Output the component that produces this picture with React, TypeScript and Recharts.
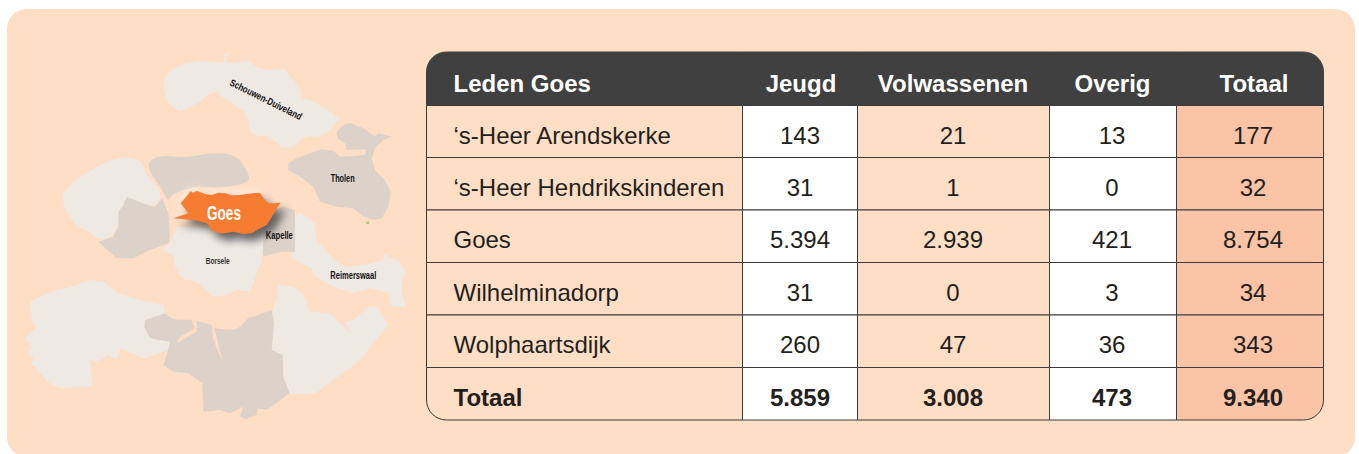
import React from 'react';
import { ScatterChart, Scatter, XAxis, YAxis, ReferenceArea } from 'recharts';

// table content
const tableTitle = 'Leden Goes';
const columns = ['Jeugd', 'Volwassenen', 'Overig', 'Totaal'];
const places = ["‘s-Heer Arendskerke", "‘s-Heer Hendrikskinderen", 'Goes', 'Wilhelminadorp', 'Wolphaartsdijk', 'Totaal'];
const jeugd = ['143', '31', '5.394', '31', '260', '5.859'];
const volwassenen = ['21', '1', '2.939', '0', '47', '3.008'];
const overig = ['13', '0', '421', '3', '36', '473'];
const totaal = ['177', '32', '8.754', '34', '343', '9.340'];

// table layout, in page pixels
const colEdges = [426.5, 742.5, 857.5, 1049.5, 1176.5, 1323.5];
const rowEdges = [52, 105.5, 157.5, 210, 262.5, 315, 367.5, 420];
const textCentres = [453.5, 800, 953, 1112, 1253];
const headerCentres = [453.5, 801, 953, 1112.5, 1254];
const colFills = ['#FEDEC5', '#FFFFFF', '#FEDEC5', '#FFFFFF', '#FCC4A6'];

type Pt = [number, number];

// map outlines, traced on a 3x grid of the map area
const schouwen: Pt[] = [[672, 98], [675, 75], [695, 58], [690, 65], [680, 78], [680, 96], [700, 100], [745, 92], [775, 115], [810, 120], [855, 115], [868, 135], [885, 155], [900, 180], [905, 205], [935, 212], [975, 235], [1018, 265], [1000, 290], [985, 305], [960, 322], [925, 318], [900, 330], [880, 350], [850, 354], [825, 335], [800, 315], [775, 320], [750, 305], [745, 275], [732, 245], [700, 220], [670, 205], [650, 185], [630, 190], [600, 215], [575, 228], [540, 245], [510, 225], [495, 195], [490, 165], [500, 135], [520, 115], [560, 100], [600, 92]];
const tholen: Pt[] = [[1010, 305], [1030, 285], [1050, 278], [1090, 295], [1125, 320], [1135, 310], [1175, 320], [1150, 330], [1125, 355], [1115, 385], [1125, 420], [1155, 450], [1172, 485], [1165, 530], [1145, 565], [1125, 570], [1090, 560], [1060, 535], [1010, 530], [960, 515], [940, 470], [900, 440], [865, 420], [865, 400], [890, 385], [930, 370], [965, 358], [1000, 362], [1020, 380], [1060, 378], [1095, 375], [1097, 358], [1040, 360], [1035, 340], [1012, 325]];
const noordBeveland: Pt[] = [[440, 390], [490, 375], [530, 382], [575, 380], [630, 370], [680, 368], [720, 385], [740, 425], [755, 450], [720, 465], [680, 470], [640, 475], [590, 465], [550, 480], [510, 495], [505, 520], [480, 465], [450, 430]];
const walcheren: Pt[] = [[185, 490], [225, 450], [290, 410], [350, 380], [400, 385], [430, 395], [425, 420], [470, 465], [487, 500], [465, 530], [440, 525], [405, 510], [380, 500], [370, 525], [355, 545], [355, 590], [340, 620], [295, 635], [270, 600], [245, 600], [215, 570], [190, 530]];
const middelburg: Pt[] = [[380, 500], [405, 510], [440, 525], [465, 530], [487, 505], [505, 550], [510, 620], [505, 640], [450, 660], [400, 685], [350, 685], [295, 635], [340, 620], [355, 590], [355, 545], [370, 525]];
const zuidBeveland: Pt[] = [[530, 590], [790, 600], [790, 640], [785, 690], [750, 785], [710, 780], [680, 795], [640, 800], [590, 755], [545, 745], [525, 710], [520, 675], [485, 660], [510, 640]];
const kapelle: Pt[] = [[845, 530], [885, 540], [885, 665], [845, 665], [790, 680], [785, 640], [790, 560]];
const reimerswaal: Pt[] = [[885, 560], [900, 545], [945, 580], [950, 630], [985, 670], [1030, 710], [1090, 705], [1150, 690], [1155, 670], [1170, 685], [1195, 690], [1218, 730], [1205, 755], [1205, 790], [1218, 830], [1175, 830], [1165, 790], [1110, 775], [1060, 790], [1000, 770], [940, 735], [935, 715], [885, 690], [870, 675], [885, 665]];
const sluis: Pt[] = [[90, 815], [165, 780], [200, 775], [265, 750], [310, 755], [355, 790], [400, 805], [490, 825], [495, 850], [510, 865], [435, 870], [433, 890], [450, 925], [510, 935], [505, 960], [430, 985], [360, 955], [350, 990], [325, 975], [290, 995], [268, 990], [280, 1068], [185, 1075], [155, 1065], [130, 1040], [95, 1000], [100, 985], [85, 965], [95, 950], [75, 925], [108, 895], [95, 865]];
const terneuzen: Pt[] = [[435, 870], [495, 850], [520, 868], [575, 870], [585, 895], [540, 920], [530, 940], [590, 905], [590, 872], [635, 885], [640, 930], [668, 995], [650, 920], [642, 895], [690, 900], [715, 895], [745, 865], [815, 840], [822, 880], [815, 960], [848, 975], [850, 1040], [868, 1090], [835, 1115], [800, 1140], [775, 1135], [770, 1155], [735, 1168], [720, 1160], [730, 1130], [690, 1150], [660, 1140], [610, 1145], [607, 1060], [565, 1030], [520, 1025], [490, 1005], [505, 960], [510, 935], [450, 925], [433, 890]];
const hulst: Pt[] = [[835, 765], [880, 770], [910, 795], [930, 845], [990, 850], [1050, 910], [1035, 875], [1060, 870], [1090, 845], [1110, 828], [1135, 835], [1165, 885], [1075, 995], [945, 1090], [870, 1092], [850, 1040], [848, 975], [815, 960], [822, 880], [818, 845], [830, 800]];
const goes: Pt[] = [[520, 565], [565, 550], [542, 520], [555, 505], [572, 483], [580, 488], [590, 482], [615, 492], [635, 495], [655, 488], [675, 490], [695, 496], [720, 495], [740, 492], [760, 490], [780, 488], [795, 510], [805, 520], [825, 520], [842, 518], [833, 530], [825, 545], [810, 570], [800, 585], [780, 595], [755, 610], [730, 612], [700, 605], [675, 610], [655, 610], [635, 600], [620, 580], [580, 570]];

const greenDot: Pt[] = [[1098, 575], [1108, 575], [1108, 582], [1098, 582]];

const mapLabels = [
  { text: 'Schouwen-Duiveland', u: 798, v: 208, size: 10, span: 79, angle: 26.5, fill: '#111' },
  { text: 'Tholen', u: 1028, v: 445, size: 10, span: 24, angle: 0, fill: '#111' },
  { text: 'Goes', u: 672, v: 548, size: 20, span: 34, angle: 0, fill: '#fff' },
  { text: 'Kapelle', u: 838, v: 617, size: 10, span: 27, angle: 0, fill: '#111' },
  { text: 'Borsele', u: 653, v: 692, size: 9.5, span: 24, angle: 0, fill: '#333' },
  { text: 'Reimerswaal', u: 1060, v: 735, size: 10, span: 46, angle: 0, fill: '#111' },
];

const LIGHT = '#EFE9E4';
const DARK = '#DDD2C9';
const INK = '#231F20';
const BORDER = '#3C3A3A';

// map grid to page pixels
const toPage = (pts: Pt[], dx = 0, dy = 0) => pts.map(([u, v]) => ({ x: u / 3 + dx, y: 30 + v / 3 + dy }));

const noPoint = () => <g />;

// rectangle path with its own radius per corner
const cellPath = (x: number, y: number, w: number, h: number, tl = 0, tr = 0, br = 0, bl = 0) =>
  `M${x + tl},${y}H${x + w - tr}A${tr},${tr} 0 0 1 ${x + w},${y + tr}V${y + h - br}A${br},${br} 0 0 1 ${x + w - br},${y + h}H${x + bl}A${bl},${bl} 0 0 1 ${x},${y + h - bl}V${y + tl}A${tl},${tl} 0 0 1 ${x + tl},${y}Z`;

const tableRows = [
  [tableTitle, ...columns],
  ...places.map((p, i) => [p, jeugd[i], volwassenen[i], overig[i], totaal[i]]),
];

const tableCells = tableRows.flatMap((cells, row) =>
  cells.map((text, col) => ({
    x: (colEdges[col] + colEdges[col + 1]) / 2,
    y: (rowEdges[row] + rowEdges[row + 1]) / 2,
    text,
    row,
    col,
  })),
);

const TableCell = (props: any) => {
  const { row, col, text } = props.payload;
  const left = colEdges[col];
  const top = rowEdges[row];
  const w = colEdges[col + 1] - left;
  const h = rowEdges[row + 1] - top;
  const header = row === 0;
  const lastRow = row === tableRows.length - 1;
  const r = 20;
  const d = cellPath(
    left,
    top,
    w,
    h,
    header && col === 0 ? r : 0,
    header && col === 4 ? r : 0,
    lastRow && col === 4 ? r : 0,
    lastRow && col === 0 ? r : 0,
  );
  return (
    <g>
      <path d={d} fill={header ? '#404040' : colFills[col]} stroke={header ? '#404040' : BORDER} strokeWidth={1} />
      <text
        x={header ? headerCentres[col] : textCentres[col]}
        y={top + h / 2 + (header ? 13 : 12.2)}
        textAnchor={col === 0 ? 'start' : 'middle'}
        fontFamily="'Liberation Sans', Arial, sans-serif"
        fontSize={24}
        fontWeight={header || lastRow ? 700 : 400}
        fill={header ? '#FFFFFF' : INK}
      >
        {text}
      </text>
    </g>
  );
};

const MapLabel = (props: any) => {
  const { text, size, span, angle, fill } = props.payload;
  const { cx, cy } = props;
  return (
    <text
      x={cx}
      y={cy}
      dy={size * 0.36}
      textAnchor="middle"
      textLength={span}
      lengthAdjust="spacingAndGlyphs"
      transform={angle ? `rotate(${angle} ${cx} ${cy})` : undefined}
      fontFamily="'Liberation Sans', sans-serif"
      fontWeight={700}
      fontSize={size}
      fill={fill}
    >
      {text}
    </text>
  );
};

const regions = [
  { name: 'schouwen', pts: schouwen, fill: LIGHT, joint: 'linear' },
  { name: 'walcheren', pts: walcheren, fill: LIGHT, joint: 'basisClosed' },
  { name: 'sluis', pts: sluis, fill: LIGHT, joint: 'linear' },
  { name: 'hulst', pts: hulst, fill: LIGHT, joint: 'linear' },
  { name: 'reimerswaal', pts: reimerswaal, fill: LIGHT, joint: 'linear' },
  { name: 'tholen', pts: tholen, fill: DARK, joint: 'linear' },
  { name: 'noordBeveland', pts: noordBeveland, fill: DARK, joint: 'basisClosed' },
  { name: 'middelburg', pts: middelburg, fill: DARK, joint: 'linear' },
  { name: 'terneuzen', pts: terneuzen, fill: DARK, joint: 'linear' },
  { name: 'kapelle', pts: kapelle, fill: DARK, joint: 'linear' },
  { name: 'zuidBeveland', pts: zuidBeveland, fill: LIGHT, joint: 'linear' },
  { name: 'greenDot', pts: greenDot, fill: '#A9C98A', joint: 'linear' },
];

const App = () => (
  <div style={{ position: 'absolute', left: 0, top: 0, width: 1359, height: 454 }}>
    <ScatterChart width={1359} height={454} margin={{ top: 0, right: 0, bottom: 0, left: 0 }}>
      <XAxis type="number" dataKey="x" domain={[0, 1359]} hide allowDataOverflow />
      <YAxis type="number" dataKey="y" domain={[0, 454]} reversed hide allowDataOverflow />
      <ReferenceArea
        x1={7}
        x2={1355}
        y1={9}
        y2={454}
        ifOverflow="visible"
        shape={(p: any) => <path d={cellPath(p.x, p.y, p.width, p.height + 3, 20, 20, 20, 20)} fill="#FEDEC5" />}
      />
      {regions.map((r) => (
        <Scatter
          key={r.name}
          data={toPage(r.pts)}
          isAnimationActive={false}
          shape={noPoint}
          line={{ fill: r.fill, stroke: 'none' }}
          lineJointType={r.joint as any}
        />
      ))}
      <Scatter
        data={toPage(goes, -3, -3)}
        isAnimationActive={false}
        shape={noPoint}
        line={{ fill: '#FFFFFF', stroke: 'none', opacity: 0.4, style: { filter: 'blur(5px)' } }}
        lineJointType="linear"
      />
      <Scatter
        data={toPage(goes, 6, 7)}
        isAnimationActive={false}
        shape={noPoint}
        line={{ fill: '#555555', stroke: 'none', opacity: 0.9, style: { filter: 'blur(4px)' } }}
        lineJointType="linear"
      />
      <Scatter
        data={toPage(goes)}
        isAnimationActive={false}
        shape={noPoint}
        line={{ fill: '#F57C30', stroke: 'none' }}
        lineJointType="linear"
      />
      <Scatter
        data={mapLabels.map((l) => ({ ...l, x: l.u / 3, y: 30 + l.v / 3 }))}
        isAnimationActive={false}
        shape={MapLabel}
      />
      <Scatter data={tableCells} isAnimationActive={false} shape={TableCell} />
    </ScatterChart>
  </div>
);

export default App;
